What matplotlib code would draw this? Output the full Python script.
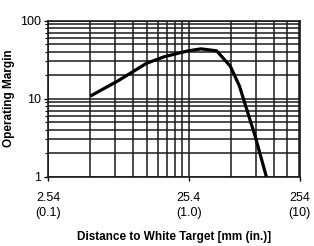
import matplotlib
matplotlib.use('Agg')
import matplotlib.pyplot as plt
from matplotlib.ticker import LogLocator, NullFormatter, FixedLocator

# operating margin vs distance
dist_mm = [5.08, 8.0, 12.7, 17.0, 25.0, 31.0, 40.0, 50.0, 58.0, 65.0, 75.0, 90.0]
margin = [10.8, 17.0, 28.4, 34.5, 41.0, 43.5, 41.0, 26.0, 14.5, 7.5, 3.3, 1.0]

x_tick_pos = [2.54, 25.4, 155.7]
x_tick_labels = ['2.54\n(0.1)', '25.4\n(1.0)', '254\n(10)']
y_tick_pos = [1, 10, 100]
y_tick_labels = ['1', '10', '100']

plt.rcParams['font.family'] = ['Liberation Sans', 'DejaVu Sans']

fig = plt.figure(figsize=(3.14, 2.46), dpi=100)
ax = fig.add_axes([0.153, 0.282, 0.802, 0.634])

ax.set_xscale('log')
ax.set_yscale('log')
ax.set_xlim(2.54, 155.7)
ax.set_ylim(1, 100)

# full log grid, major and minor, dark lines
ax.xaxis.set_minor_locator(FixedLocator([2.54 * k for k in range(2, 10)] + [25.4 * k for k in range(2, 7)]))
ax.yaxis.set_minor_locator(LogLocator(base=10, subs=range(2, 10)))
ax.xaxis.set_minor_formatter(NullFormatter())
ax.yaxis.set_minor_formatter(NullFormatter())
ax.grid(which='both', color='#1a1a1a', linewidth=1.1)

ax.plot(dist_mm, margin, color='black', linewidth=2.3, solid_capstyle='butt', zorder=3)

ax.set_xticks(x_tick_pos)
ax.set_xticklabels(x_tick_labels, fontsize=9, linespacing=1.3)
ax.set_yticks(y_tick_pos)
ax.set_yticklabels(y_tick_labels, fontsize=9)
ax.tick_params(which='major', length=3, width=1)
ax.tick_params(axis='x', which='major', pad=8)
ax.tick_params(axis='y', which='major', pad=2)
ax.tick_params(axis='x', which='minor', length=0)
ax.tick_params(axis='y', which='minor', length=2, width=0.8)

for s in ax.spines.values():
    s.set_linewidth(1.2)
    s.set_color('#1a1a1a')

ax.set_xlabel('Distance to White Target [mm (in.)]', fontsize=8.5, fontweight='bold', labelpad=9)
ax.set_ylabel('Operating Margin', fontsize=8.5, fontweight='bold', labelpad=4)

fig.savefig('out.png', dpi=100)
